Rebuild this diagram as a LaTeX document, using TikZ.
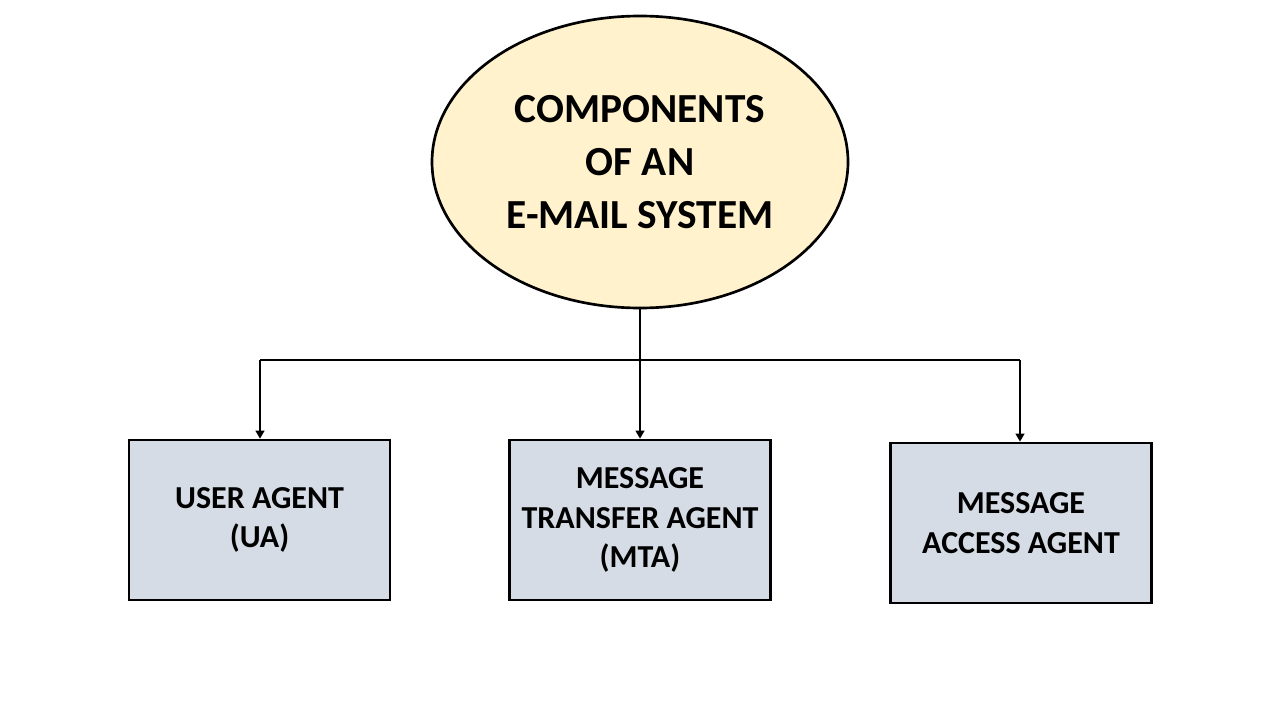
\documentclass[tikz,border=0pt]{standalone}
\usepackage{fontspec}
\setmainfont{Carlito}
\usetikzlibrary{arrows.meta,shapes.geometric}
\begin{document}
\begin{tikzpicture}[x=0.75pt,y=-0.75pt,
  agentbox/.style={draw=black,line width=2pt,fill=boxfill,minimum width=261*0.75pt,minimum height=160*0.75pt,inner sep=0pt,align=center,font=\bfseries\fontsize{24}{29.5}\selectfont},
  conn/.style={line width=1.7pt,draw=black},
  arr/.style={conn,-{Triangle[length=6pt,width=6.5pt]}}]
\definecolor{boxfill}{HTML}{D6DCE5}
\definecolor{ellfill}{HTML}{FFF2CC}
\useasboundingbox (0,0) rectangle (1280,720);
\node[ellipse,draw=black,line width=2pt,fill=ellfill,minimum width=416*0.75pt,minimum height=292*0.75pt,inner sep=0pt,align=center,font=\bfseries\fontsize{31}{39.5}\selectfont] (top) at (640,162) {COMPONENTS\\OF AN\\E-MAIL SYSTEM};
\node[agentbox] (ua) at (259.5,520) {USER AGENT\\(UA)};
\node[agentbox] (mta) at (640,520) {MESSAGE\\TRANSFER AGENT\\(MTA)};
\node[agentbox] (maa) at (1021,523) {MESSAGE\\ACCESS AGENT};
\coordinate (hl) at (260,360);
\coordinate (hr) at (1020,360);
\draw[conn] (hl) -- (hr);
\draw[arr] (top.south) -- (mta.north);
\draw[arr] (hl) -- (ua.north -| hl);
\draw[arr] (hr) -- (maa.north -| hr);
\end{tikzpicture}
\end{document}
